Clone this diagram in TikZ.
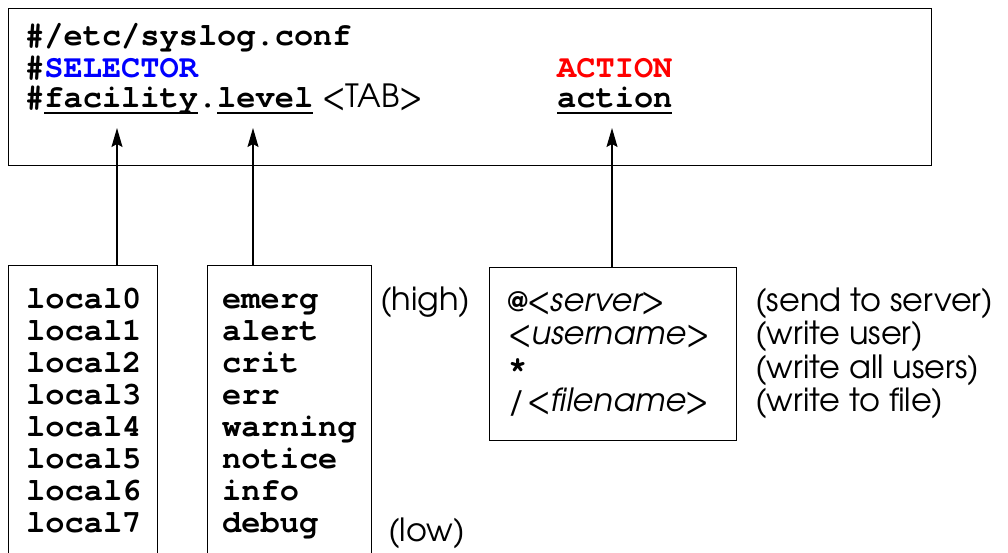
\documentclass[tikz,border=0pt]{standalone}
\usepackage{fontspec}
\setmonofont{TeX Gyre Cursor}
\newfontfamily\gothic{TeX Gyre Adventor}
\usetikzlibrary{arrows.meta}
% underline at a fixed depth, independent of descenders
\newcommand\ulined[1]{\setbox0\hbox{#1}\rlap{\rule[-6.8pt]{\wd0}{1.8pt}}\box0}
\begin{document}
\begin{tikzpicture}[x=1pt,y=-1pt,
  frame/.style={draw, line width=1.4pt, inner sep=0pt, anchor=north west},
  mono/.style={font=\fontsize{32}{32}\selectfont\ttfamily\bfseries, inner sep=0pt, anchor=base west},
  sans/.style={font=\fontsize{32}{34}\selectfont\gothic, inner sep=0pt, anchor=base west},
  link/.style={line width=1.2pt, -{Stealth[length=19pt,width=11pt,inset=3pt]}}]
\useasboundingbox (0,0) rectangle (1008,552);
\clip (0,0) rectangle (1008,552);

% configuration file line
\node[frame, minimum width=923pt, minimum height=157pt] (conf) at (8,8) {};
\node[mono] (hdr) at (25,45) {\#/etc/syslog.conf};
\node[mono] (sel) at (25,77) {\#\textcolor{blue}{SELECTOR}};
\node[mono] (fmt) at (25,107) {\#\ulined{facility}.\ulined{level}};
\node[sans] (tab) at (322,107) {<TAB>};
\node[mono] (acth) at (557,77) {\textcolor{red}{ACTION}};
\node[mono] (actf) at (557,107) {\ulined{action}};

% arrow tips under the fields
\coordinate (facTip) at (117,128);
\coordinate (lvlTip) at (253,128);
\coordinate (actTip) at (612,128);

% facility box
\node[frame, minimum width=149pt, minimum height=330pt] (facbox) at (8,265) {};
\foreach \t [count=\i from 0] in {local0,local1,local2,local3,local4,local5,local6,local7}
  \node[mono] (fac\i) at (26,{308+32.1*\i}) {\t};

% level box
\node[frame, minimum width=164pt, minimum height=330pt] (lvlbox) at (207,265) {};
\foreach \t [count=\i from 0] in {emerg,alert,crit,err,warning,notice,info,debug}
  \node[mono] (lvl\i) at (222,{308+32.1*\i}) {\t};
\node[sans] (high) at (380,310) {(high)};
\node[sans] (low) at (388,541) {(low)};

% action box
\node[frame, minimum width=247pt, minimum height=173pt] (actbox) at (489,267) {};
\node[sans] (a0) at (508,311) {{\bfseries\fontsize{26}{30}\selectfont @}\textit{<server>}};
\node[sans] (a1) at (508,344.5) {\textit{<username>}};
\node[sans] (a2) at (508,378) {{\ttfamily\bfseries *}};
\node[sans] (a3) at (508,411.5) {\textit{/\kern3pt<filename>}};
\node[sans] (d0) at (755,311) {(send to server)};
\node[sans] (d1) at (755,344.5) {(write user)};
\node[sans] (d2) at (755,378) {(write all users)};
\node[sans] (d3) at (755,411.5) {(write to file)};

% connectors
\draw[link] (facbox.north -| facTip) -- (facTip);
\draw[link] (lvlbox.north -| lvlTip) -- (lvlTip);
\draw[link] (actbox.north -| actTip) -- (actTip);
\end{tikzpicture}
\end{document}
